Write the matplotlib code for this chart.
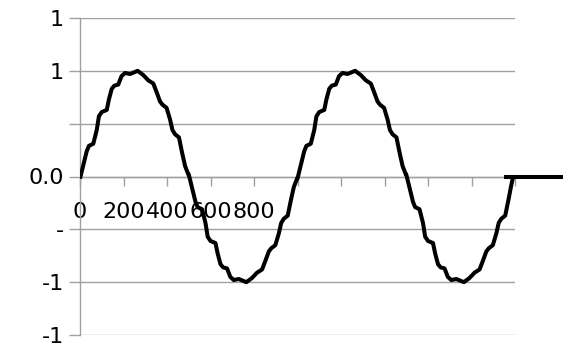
import matplotlib
matplotlib.use("Agg")
import matplotlib.pyplot as plt
from matplotlib.ticker import FixedLocator, FixedFormatter

plt.rcParams['font.family'] = ['DejaVu Sans']

# Sampled waveform (time, amplitude)
t_values = [
    0, 31, 41, 61, 77, 87, 100, 123, 133, 146, 158, 176, 191, 207, 230,
    265, 291, 314, 337, 352, 368, 379, 398, 414, 425, 437, 455, 470, 483, 498,
    500, 531, 541, 561, 577, 587, 600, 623, 633, 646, 658, 676, 691, 707, 730,
    765, 791, 814, 837, 852, 868, 879, 898, 914, 925, 937, 955, 970, 983, 998,
    1000, 1031, 1041, 1061, 1077, 1087, 1100, 1123, 1133, 1146, 1158, 1176, 1191, 1207, 1230,
    1265, 1291, 1314, 1337, 1352, 1368, 1379, 1398, 1414, 1425, 1437, 1455, 1470, 1483, 1498,
    1500, 1531, 1541, 1561, 1577, 1587, 1600, 1623, 1633, 1646, 1658, 1676, 1691, 1707, 1730,
    1765, 1791, 1814, 1837, 1852, 1868, 1879, 1898, 1914, 1925, 1937, 1955, 1970, 1983, 1992,
]
y_values = [
    -0.02, 0.24, 0.29, 0.31, 0.44, 0.57, 0.61, 0.63, 0.73, 0.83, 0.86, 0.87, 0.95, 0.98, 0.97,
    1.00, 0.96, 0.91, 0.88, 0.80, 0.71, 0.68, 0.65, 0.54, 0.44, 0.40, 0.37, 0.22, 0.10, 0.02,
    0.02, -0.24, -0.29, -0.31, -0.44, -0.57, -0.61, -0.63, -0.73, -0.83, -0.86, -0.87, -0.95, -0.98, -0.97,
    -1.00, -0.96, -0.91, -0.88, -0.80, -0.71, -0.68, -0.65, -0.54, -0.44, -0.40, -0.37, -0.22, -0.10, -0.02,
    -0.02, 0.24, 0.29, 0.31, 0.44, 0.57, 0.61, 0.63, 0.73, 0.83, 0.86, 0.87, 0.95, 0.98, 0.97,
    1.00, 0.96, 0.91, 0.88, 0.80, 0.71, 0.68, 0.65, 0.54, 0.44, 0.40, 0.37, 0.22, 0.10, 0.02,
    0.02, -0.24, -0.29, -0.31, -0.44, -0.57, -0.61, -0.63, -0.73, -0.83, -0.86, -0.87, -0.95, -0.98, -0.97,
    -1.00, -0.96, -0.91, -0.88, -0.80, -0.71, -0.68, -0.65, -0.54, -0.44, -0.40, -0.37, -0.22, -0.08, 0.00,
]

# Trailing baseline segment
tail_t = [1950, 2220]
tail_y = [0.0, 0.0]

x_ticks = [0, 200, 400, 600, 800, 1000, 1200, 1400, 1600, 1800, 2000]
x_tick_labels = ["0", "200", "400", "600", "800", "", "", "", "", "", ""]
y_ticks = [-1.5, -1.0, -0.5, 0.0, 0.5, 1.0, 1.5]
y_tick_labels = ["-1", "-1", "-", "0.0", "", "1", "1"]

grey = "#a0a0a0"

fig = plt.figure(figsize=(5.72, 3.44), dpi=100)
ax = fig.add_axes([80 / 572, 9 / 344, 435 / 572, 317 / 344])

ax.plot(t_values, y_values, color="black", lw=2.9, solid_joinstyle="round",
        solid_capstyle="butt", zorder=3)
ax.plot(tail_t, tail_y, color="black", lw=2.9, solid_capstyle="butt",
        zorder=3, clip_on=False)

ax.set_xlim(0, 2000)
ax.set_ylim(-1.5, 1.5)

ax.xaxis.set_major_locator(FixedLocator(x_ticks))
ax.xaxis.set_major_formatter(FixedFormatter(x_tick_labels))
ax.yaxis.set_major_locator(FixedLocator(y_ticks))
ax.yaxis.set_major_formatter(FixedFormatter(y_tick_labels))

ax.grid(axis="y", color=grey, lw=1.0)
ax.set_axisbelow(True)

for side in ("top", "right"):
    ax.spines[side].set_visible(False)
ax.spines["left"].set_color(grey)
ax.spines["left"].set_linewidth(1.0)
ax.spines["bottom"].set_position(("data", 0))
ax.spines["bottom"].set_color(grey)
ax.spines["bottom"].set_linewidth(1.0)

ax.tick_params(axis="x", direction="out", length=6.5, width=1.0, color=grey,
               labelsize=16, pad=12, labelcolor="black")
ax.tick_params(axis="y", direction="out", length=8, width=1.0, color=grey,
               labelsize=16, pad=3.5, labelcolor="black")

fig.savefig("out.png", dpi=100)
